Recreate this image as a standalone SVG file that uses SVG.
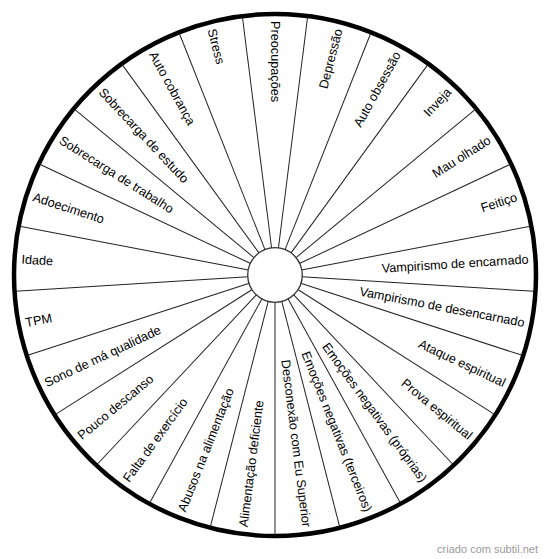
<svg xmlns="http://www.w3.org/2000/svg" width="550" height="559" viewBox="0 0 550 559">
<style>
.lbl{font-family:"Liberation Sans",Arial,sans-serif;font-size:12.7px;fill:#000}
.r{text-anchor:end}
.l{text-anchor:start}
.sp line{stroke:#222;stroke-width:1}
.wm{font-family:"Liberation Sans",Arial,sans-serif;font-size:11px;fill:#9a9a9a}
</style>
<rect width="550" height="559" fill="#fff"/>
<g id="wheel">
<circle cx="275" cy="275" r="261" fill="#fff" stroke="#000" stroke-width="4.5"/>
</g>
<g id="connectors" class="sp">
<line x1="275" y1="248" x2="275" y2="15" transform="rotate(7.2 275 275)"/>
<line x1="275" y1="248" x2="275" y2="15" transform="rotate(21.6 275 275)"/>
<line x1="275" y1="248" x2="275" y2="15" transform="rotate(36 275 275)"/>
<line x1="275" y1="248" x2="275" y2="15" transform="rotate(50.4 275 275)"/>
<line x1="275" y1="248" x2="275" y2="15" transform="rotate(64.8 275 275)"/>
<line x1="275" y1="248" x2="275" y2="15" transform="rotate(79.2 275 275)"/>
<line x1="275" y1="248" x2="275" y2="15" transform="rotate(93.6 275 275)"/>
<line x1="275" y1="248" x2="275" y2="15" transform="rotate(108 275 275)"/>
<line x1="275" y1="248" x2="275" y2="15" transform="rotate(122.4 275 275)"/>
<line x1="275" y1="248" x2="275" y2="15" transform="rotate(136.8 275 275)"/>
<line x1="275" y1="248" x2="275" y2="15" transform="rotate(151.2 275 275)"/>
<line x1="275" y1="248" x2="275" y2="15" transform="rotate(165.6 275 275)"/>
<line x1="275" y1="248" x2="275" y2="15" transform="rotate(180 275 275)"/>
<line x1="275" y1="248" x2="275" y2="15" transform="rotate(194.4 275 275)"/>
<line x1="275" y1="248" x2="275" y2="15" transform="rotate(208.8 275 275)"/>
<line x1="275" y1="248" x2="275" y2="15" transform="rotate(223.2 275 275)"/>
<line x1="275" y1="248" x2="275" y2="15" transform="rotate(237.6 275 275)"/>
<line x1="275" y1="248" x2="275" y2="15" transform="rotate(252 275 275)"/>
<line x1="275" y1="248" x2="275" y2="15" transform="rotate(266.4 275 275)"/>
<line x1="275" y1="248" x2="275" y2="15" transform="rotate(280.8 275 275)"/>
<line x1="275" y1="248" x2="275" y2="15" transform="rotate(295.2 275 275)"/>
<line x1="275" y1="248" x2="275" y2="15" transform="rotate(309.6 275 275)"/>
<line x1="275" y1="248" x2="275" y2="15" transform="rotate(324 275 275)"/>
<line x1="275" y1="248" x2="275" y2="15" transform="rotate(338.4 275 275)"/>
<line x1="275" y1="248" x2="275" y2="15" transform="rotate(352.8 275 275)"/>
</g>
<g id="hub">
<circle cx="275" cy="275" r="27.3" fill="#fff" stroke="#333" stroke-width="1.3"/>
</g>
<g id="n-preocupacoes"><text class="lbl l" x="21" y="275" dy="0.35em" transform="rotate(90 275 275)">Preocupações</text></g>
<g id="n-depressao"><text class="lbl r" x="529" y="275" dy="0.35em" transform="rotate(-75.6 275 275)">Depressão</text></g>
<g id="n-auto-obsessao"><text class="lbl r" x="529" y="275" dy="0.35em" transform="rotate(-61.2 275 275)">Auto obsessão</text></g>
<g id="n-inveja"><text class="lbl r" x="529" y="275" dy="0.35em" transform="rotate(-46.8 275 275)">Inveja</text></g>
<g id="n-mau-olhado"><text class="lbl r" x="529" y="275" dy="0.35em" transform="rotate(-32.4 275 275)">Mau olhado</text></g>
<g id="n-feitico"><text class="lbl r" x="529" y="275" dy="0.35em" transform="rotate(-18 275 275)">Feitiço</text></g>
<g id="n-vamp-encarnado"><text class="lbl r" x="529" y="275" dy="0.35em" transform="rotate(-3.6 275 275)">Vampirismo de encarnado</text></g>
<g id="n-vamp-desencarnado"><text class="lbl r" x="529" y="275" dy="0.35em" transform="rotate(10.8 275 275)">Vampirismo de desencarnado</text></g>
<g id="n-ataque"><text class="lbl r" x="529" y="275" dy="0.35em" transform="rotate(25.2 275 275)">Ataque espiritual</text></g>
<g id="n-prova"><text class="lbl r" x="529" y="275" dy="0.35em" transform="rotate(39.6 275 275)">Prova espiritual</text></g>
<g id="n-emocoes-proprias"><text class="lbl r" x="529" y="275" dy="0.35em" transform="rotate(54 275 275)">Emoções negativas (próprias)</text></g>
<g id="n-emocoes-terceiros"><text class="lbl r" x="529" y="275" dy="0.35em" transform="rotate(68.4 275 275)">Emoções negativas (terceiros)</text></g>
<g id="n-desconexao"><text class="lbl r" x="529" y="275" dy="0.35em" transform="rotate(82.8 275 275)">Desconexão com Eu Superior</text></g>
<g id="n-alimentacao-def"><text class="lbl l" x="21" y="275" dy="0.35em" transform="rotate(-82.8 275 275)">Alimentação deficiente</text></g>
<g id="n-abusos"><text class="lbl l" x="21" y="275" dy="0.35em" transform="rotate(-68.4 275 275)">Abusos na alimentação</text></g>
<g id="n-exercicio"><text class="lbl l" x="21" y="275" dy="0.35em" transform="rotate(-54 275 275)">Falta de exercício</text></g>
<g id="n-descanso"><text class="lbl l" x="21" y="275" dy="0.35em" transform="rotate(-39.6 275 275)">Pouco descanso</text></g>
<g id="n-sono"><text class="lbl l" x="21" y="275" dy="0.35em" transform="rotate(-25.2 275 275)">Sono de má qualidade</text></g>
<g id="n-tpm"><text class="lbl l" x="21" y="275" dy="0.35em" transform="rotate(-10.8 275 275)">TPM</text></g>
<g id="n-idade"><text class="lbl l" x="21" y="275" dy="0.35em" transform="rotate(3.6 275 275)">Idade</text></g>
<g id="n-adoecimento"><text class="lbl l" x="21" y="275" dy="0.35em" transform="rotate(18 275 275)">Adoecimento</text></g>
<g id="n-sobrecarga-trabalho"><text class="lbl l" x="21" y="275" dy="0.35em" transform="rotate(32.4 275 275)">Sobrecarga de trabalho</text></g>
<g id="n-sobrecarga-estudo"><text class="lbl l" x="21" y="275" dy="0.35em" transform="rotate(46.8 275 275)">Sobrecarga de estudo</text></g>
<g id="n-auto-cobranca"><text class="lbl l" x="21" y="275" dy="0.35em" transform="rotate(61.2 275 275)">Auto cobrança</text></g>
<g id="n-stress"><text class="lbl l" x="21" y="275" dy="0.35em" transform="rotate(75.6 275 275)">Stress</text></g>
<text class="wm" x="538" y="553" text-anchor="end">criado com subtil.net</text>
</svg>
